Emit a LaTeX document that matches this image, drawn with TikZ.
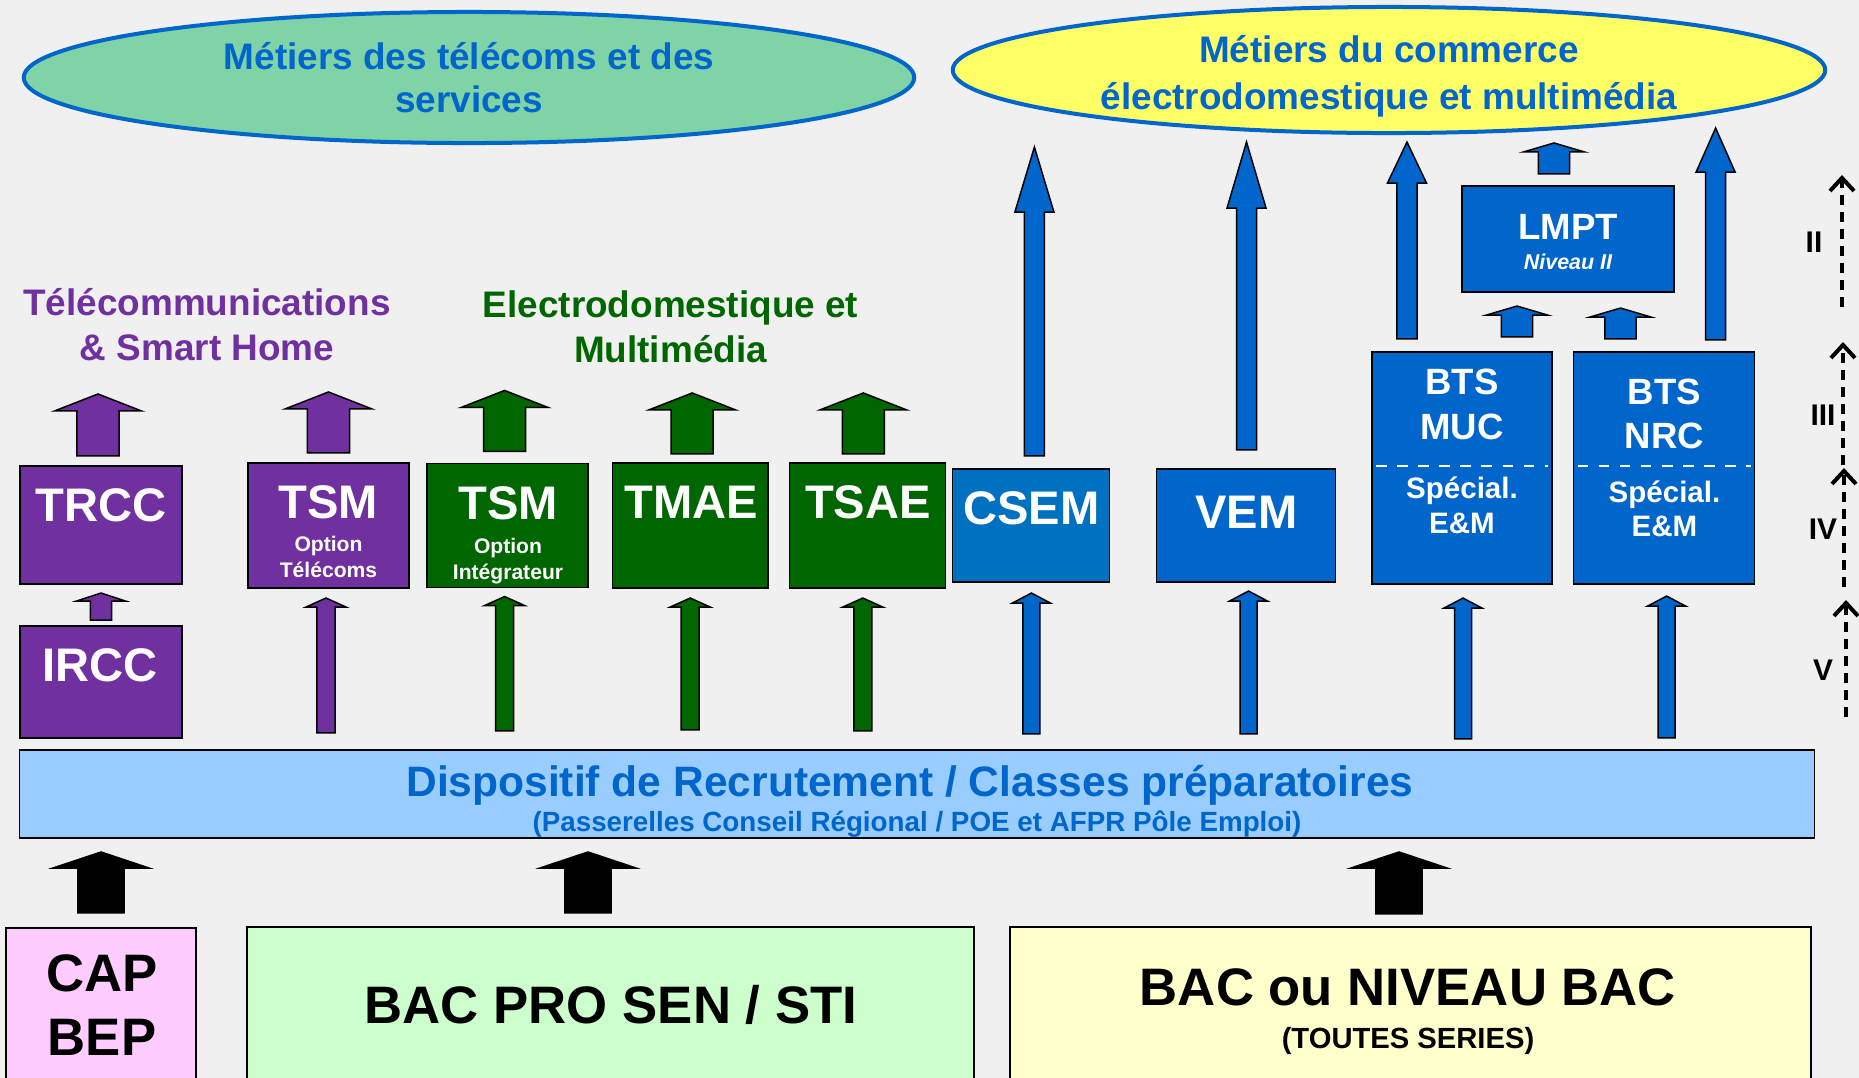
\documentclass[tikz,border=0pt]{standalone}
\usepackage{fontspec}
\setmainfont{Liberation Sans}
\usetikzlibrary{shapes.geometric,calc,arrows.meta,positioning}

\definecolor{telviolet}{HTML}{7030A0}
\definecolor{elecvert}{HTML}{006600}
\definecolor{combleu}{HTML}{0066CC}
\definecolor{csembleu}{HTML}{0070C0}
\definecolor{bandbleu}{HTML}{99CCFF}
\definecolor{ellvert}{HTML}{80D3A6}
\definecolor{elljaune}{HTML}{FFFF66}
\definecolor{caprose}{HTML}{FFCCFF}
\definecolor{bacprovert}{HTML}{CCFFCC}
\definecolor{bacjaune}{HTML}{FFFFCC}
\definecolor{fondgris}{HTML}{F0F0F0}

% fleche pleine : [style]{bas}{pointe}{demi-largeur tige}{demi-largeur tete}{longueur tete}
\newcommand{\fleche}[6][]{%
  \filldraw[line width=0.015cm, #1] let \p1=#2, \p2=#3 in
    (\x2,\y2) -- (\x2+#5,\y2-#6) -- (\x2+#4,\y2-#6) -- (\x2+#4,\y1)
    -- (\x2-#4,\y1) -- (\x2-#4,\y2-#6) -- (\x2-#5,\y2-#6) -- cycle;}

\tikzset{
  boite/.style={draw, line width=0.015cm, inner sep=0pt, outer sep=0pt},
  ell/.style={ellipse, draw=combleu, line width=0.04cm, inner sep=0pt},
  txt/.style={inner sep=0pt, font=\fontsize{#1}{#1}\selectfont\bfseries,
    text height={0.7*#1pt}, text depth=0pt},
  btxt/.style={txt=#1, text=white},
  echelle/.style={dash pattern=on 0.1cm off 0.07cm, line width=0.04cm,
    -{Straight Barb[length=0.13cm, width=0.24cm]}}
}

\begin{document}
\begin{tikzpicture}[x=0.01cm, y=-0.01cm]

\fill[fondgris] (0,0) rectangle (1859,1078);
\useasboundingbox (0,0) rectangle (1859,1078);

% debouches
\node[ell, fill=ellvert, minimum width=8.9cm, minimum height=1.31cm] (mettel) at (469,77.5) {};
\node[ell, fill=elljaune, minimum width=8.72cm, minimum height=1.26cm] (metcom) at (1389,70) {};
\node[txt=10.5, text=combleu] (mettel-a) at (469,57) {Métiers des télécoms et des};
\node[txt=10.5, text=combleu] (mettel-b) at (469,100) {services};
\node[txt=10.5, text=combleu] (metcom-a) at (1389,50) {Métiers du commerce};
\node[txt=10.5, text=combleu] (metcom-b) at (1389,97) {électrodomestique et multimédia};

% filieres
\node[txt=10.5, text=telviolet] (tel-a) at (207,303) {Télécommunications};
\node[txt=10.5, text=telviolet] (tel-b) at (207,348) {\& Smart Home};
\node[txt=10.5, text=elecvert] (elec-a) at (670.5,305) {Electrodomestique et};
\node[txt=10.5, text=elecvert] (elec-b) at (670.5,350) {Multimédia};

% formations
\node[boite, fill=telviolet, minimum width=1.62cm, minimum height=1.18cm] (trcc) at (101,525) {};
\node[boite, fill=telviolet, minimum width=1.62cm, minimum height=1.12cm, below=0.42cm of trcc] (ircc) {};
\node[boite, fill=telviolet, minimum width=1.61cm, minimum height=1.25cm] (tsmt) at (328.5,525.5) {};
\node[boite, fill=elecvert, minimum width=1.61cm, minimum height=1.24cm, right=0.18cm of tsmt] (tsmi) {};
\node[boite, fill=elecvert, minimum width=1.55cm, minimum height=1.25cm, right=0.245cm of tsmi] (tmae) {};
\node[boite, fill=elecvert, minimum width=1.56cm, minimum height=1.25cm, right=0.215cm of tmae] (tsae) {};
\node[boite, fill=csembleu, minimum width=1.57cm, minimum height=1.13cm, right=0.07cm of tsae] (csem) {};
\node[boite, fill=combleu, minimum width=1.79cm, minimum height=1.13cm, right=0.47cm of csem] (vem) {};
\node[boite, fill=combleu, minimum width=1.8cm, minimum height=2.32cm] (muc) at (1462,468) {};
\node[boite, fill=combleu, minimum width=1.81cm, minimum height=2.32cm, right=0.215cm of muc] (nrc) {};
\node[boite, fill=combleu, minimum width=2.12cm, minimum height=1.06cm] (lmpt) at (1568,239) {};

\draw[white, dashed, line width=0.02cm] ($(muc.west)+(4,-2)$) -- ($(muc.east)+(-4,-2)$);
\draw[white, dashed, line width=0.02cm] ($(nrc.west)+(4,-2)$) -- ($(nrc.east)+(-4,-2)$);

\node[btxt=13.4] (trcc-l) at (101,505) {TRCC};
\node[btxt=13.4] (ircc-l) at (100,665) {IRCC};
\node[btxt=13.4] (tsmt-l) at (328.5,502) {TSM};
\node[btxt=6] (tsmt-a) at (328.5,544) {Option};
\node[btxt=6] (tsmt-b) at (328.5,570) {Télécoms};
\node[btxt=13.4] (tsmi-l) at (508,503) {TSM};
\node[btxt=6] (tsmi-a) at (508,546) {Option};
\node[btxt=6] (tsmi-b) at (508,572) {Intégrateur};
\node[btxt=13.4] (tmae-l) at (691,502) {TMAE};
\node[btxt=13.4] (tsae-l) at (868,502) {TSAE};
\node[btxt=13.4] (csem-l) at (1031.5,508) {CSEM};
\node[btxt=13.4] (vem-l) at (1246.5,512) {VEM};
\node[btxt=10.4] (muc-a) at (1462,382) {BTS};
\node[btxt=10.4] (muc-b) at (1462,427) {MUC};
\node[btxt=8.4] (muc-c) at (1462,488) {Spécial.};
\node[btxt=8.4] (muc-d) at (1462,523) {E\&M};
\node[btxt=10.4] (nrc-a) at (1664.5,392) {BTS};
\node[btxt=10.4] (nrc-b) at (1664.5,436) {NRC};
\node[btxt=8.4] (nrc-c) at (1664.5,492) {Spécial.};
\node[btxt=8.4] (nrc-d) at (1664.5,526) {E\&M};
\node[btxt=10.4] (lmpt-a) at (1568,227) {LMPT};
\node[btxt=6.1, font=\fontsize{6.1}{6.1}\selectfont\bfseries\itshape] (lmpt-b) at (1568,262) {Niveau II};

% recrutement
\node[boite, fill=bandbleu, minimum width=17.94cm, minimum height=0.88cm] (band) at (917,794) {};
\node[txt=12.1, text=combleu] (band-a) at (910,782) {Dispositif de Recrutement / Classes préparatoires};
\node[txt=7.9, text=combleu] (band-b) at (917,822) {(Passerelles Conseil Régional / POE et AFPR Pôle Emploi)};

% origines
\node[boite, fill=caprose, minimum width=1.9cm, minimum height=1.54cm] (cap) at (101,1005) {};
\node[boite, fill=bacprovert, minimum width=7.27cm, minimum height=1.55cm] (bacpro) at (610.5,1004.5) {};
\node[boite, fill=bacjaune, minimum width=8.01cm, minimum height=1.55cm] (bac) at (1410.5,1004.5) {};
\node[txt=15] (cap-a) at (102,973) {CAP};
\node[txt=15] (cap-b) at (102,1037) {BEP};
\node[txt=15] (bacpro-l) at (611,1005) {BAC PRO SEN / STI};
\node[txt=15] (bac-a) at (1408,987) {BAC ou NIVEAU BAC};
\node[txt=8.3] (bac-b) at (1408,1038) {(TOUTES SERIES)};

% fleches vers le recrutement
\fleche[fill=black]{($(cap.north)+(0,-15)$)}{($(band.south -| cap.north)+(0,14)$)}{0.23cm}{0.48cm}{0.16cm}
\fleche[fill=black]{($(bacpro.north)+(0,-14)$)}{($(band.south -| bacpro.north)+(-22.5,14)$)}{0.23cm}{0.48cm}{0.16cm}
\fleche[fill=black]{($(bac.north)+(0,-13)$)}{($(band.south -| bac.north)+(-11.5,14)$)}{0.23cm}{0.48cm}{0.16cm}

% fleches vers les formations
\fleche[fill=telviolet]{($(band.north)+(0,-17)$)}{($(tsmt.south)+(-2.5,10)$)}{0.09cm}{0.2cm}{0.09cm}
\fleche[fill=elecvert]{($(band.north)+(0,-19)$)}{($(tsmi.south)+(-3,9)$)}{0.09cm}{0.2cm}{0.09cm}
\fleche[fill=elecvert]{($(band.north)+(0,-20)$)}{($(tmae.south)+(0,10)$)}{0.09cm}{0.2cm}{0.09cm}
\fleche[fill=elecvert]{($(band.north)+(0,-19)$)}{($(tsae.south)+(-4.5,10)$)}{0.09cm}{0.2cm}{0.09cm}
\fleche[fill=combleu]{($(band.north)+(0,-16)$)}{($(csem.south)+(0.5,11)$)}{0.085cm}{0.19cm}{0.1cm}
\fleche[fill=combleu]{($(band.north)+(0,-16)$)}{($(vem.south)+(2.5,9)$)}{0.085cm}{0.19cm}{0.1cm}
\fleche[fill=combleu]{($(band.north)+(0,-11)$)}{($(muc.south)+(1,14)$)}{0.085cm}{0.19cm}{0.1cm}
\fleche[fill=combleu]{($(band.north)+(0,-12)$)}{($(nrc.south)+(2.5,12)$)}{0.085cm}{0.19cm}{0.1cm}
\fleche[fill=telviolet]{($(ircc.north)+(0,-6)$)}{($(trcc.south)+(0,9)$)}{0.105cm}{0.245cm}{0.08cm}

% fleches vers les metiers
\fleche[fill=telviolet]{($(trcc.north)+(-3,-10)$)}{($(trcc.north)+(-3,-72)$)}{0.21cm}{0.435cm}{0.17cm}
\fleche[fill=telviolet]{($(tsmt.north)+(0,-10)$)}{($(tsmt.north)+(0,-71)$)}{0.21cm}{0.435cm}{0.17cm}
\fleche[fill=elecvert]{($(tsmi.north)+(-3,-12)$)}{($(tsmi.north)+(-3,-73)$)}{0.21cm}{0.435cm}{0.17cm}
\fleche[fill=elecvert]{($(tmae.north)+(2,-9)$)}{($(tmae.north)+(2,-70)$)}{0.21cm}{0.435cm}{0.17cm}
\fleche[fill=elecvert]{($(tsae.north)+(-4,-9)$)}{($(tsae.north)+(-4,-70)$)}{0.21cm}{0.435cm}{0.17cm}
\fleche[fill=combleu]{($(csem.north)+(0,-13)$)}{($(csem.north |- metcom.south)+(3.5,12)$)}{0.1cm}{0.195cm}{0.65cm}
\fleche[fill=combleu]{($(vem.north)+(0,-19)$)}{($(vem.north |- metcom.south)+(0.5,7)$)}{0.1cm}{0.195cm}{0.66cm}
\fleche[fill=combleu]{($(muc.north)+(0,-13)$)}{($(muc.north |- metcom.south)+(-55,7)$)}{0.1cm}{0.195cm}{0.41cm}
\fleche[fill=combleu]{($(nrc.north)+(0,-12)$)}{($(nrc.north |- metcom.south)+(51.5,-7)$)}{0.1cm}{0.195cm}{0.44cm}
\fleche[fill=combleu]{($(muc.north)+(0,-15)$)}{($(lmpt.south)+(-51,14)$)}{0.155cm}{0.305cm}{0.09cm}
\fleche[fill=combleu]{($(nrc.north)+(0,-13)$)}{($(lmpt.south)+(52.5,16)$)}{0.155cm}{0.305cm}{0.09cm}
\fleche[fill=combleu]{($(lmpt.north)+(0,-12)$)}{($(lmpt.north)+(-14,-43)$)}{0.155cm}{0.305cm}{0.09cm}

% niveaux
\coordinate (v-b) at (1846,717);
\coordinate (v-h) at (1846,600);
\coordinate (iv-b) at (1844,587);
\coordinate (iv-h) at (1844,468);
\coordinate (iii-b) at (1843,465);
\coordinate (iii-h) at (1843,342);
\coordinate (ii-b) at (1842,307);
\coordinate (ii-h) at (1842,175);
\draw[echelle] (v-b) -- (v-h);
\draw[echelle] (iv-b) -- (iv-h);
\draw[echelle] (iii-b) -- (iii-h);
\draw[echelle] (ii-b) -- (ii-h);
\node[txt=8.5] (ii-l) at (1814,242) {II};
\node[txt=8.5] (iii-l) at (1823,415) {III};
\node[txt=8.5] (iv-l) at (1823,529) {IV};
\node[txt=8.5] (v-l) at (1823,670) {V};

\end{tikzpicture}
\end{document}
